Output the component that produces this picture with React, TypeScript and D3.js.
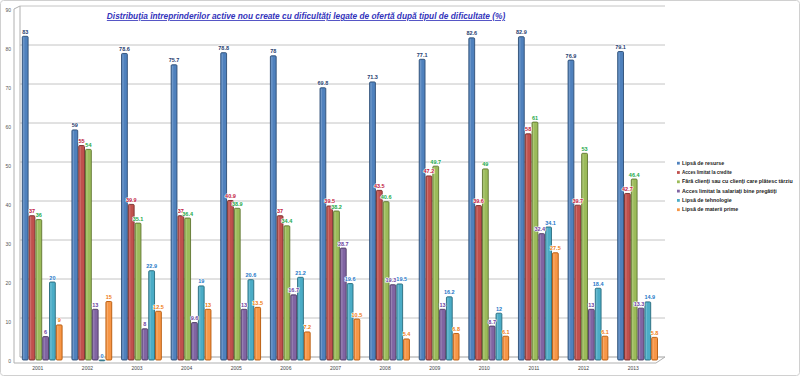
import React from "react";
import * as d3 from "d3";

const years = ["2001","2002","2003","2004","2005","2006","2007","2008","2009","2010","2011","2012","2013"];
const seriesNames = [
  "Lipsă de resurse",
  "Acces limitat la credite",
  "Fără clienţi sau cu clienţi care plătesc târziu",
  "Acces limitat la salariaţi bine pregătiţi",
  "Lipsă de tehnologie",
  "Lipsă de materii prime",
];
const lipsaResurse = [83, 59, 78.6, 75.7, 78.8, 78, 69.8, 71.3, 77.1, 82.6, 82.9, 76.9, 79.1];
const accesCredite = [37, 55, 39.9, 37, 40.9, 37, 39.5, 43.5, 47.2, 39.6, 58, 39.7, 42.7];
const faraClienti = [36, 54, 35.1, 36.4, 38.9, 34.4, 38.2, 40.6, 49.7, 49, 61, 53, 46.4];
const accesSalariati = [6, 13, 8, 9.6, 13, 16.7, 28.7, 19.3, 13, 8.7, 32.4, 13, 13.3];
const lipsaTehnologie = [20, 0, 22.9, 19, 20.6, 21.2, 19.6, 19.5, 16.2, 12, 34.1, 18.4, 14.9];
const lipsaMaterii = [9, 15, 12.5, 13, 13.5, 7.2, 10.5, 5.4, 6.8, 6.1, 27.5, 6.1, 5.8];
const yTicks = [0, 10, 20, 30, 40, 50, 60, 70, 80, 90];

const allSeries = [lipsaResurse, accesCredite, faraClienti, accesSalariati, lipsaTehnologie, lipsaMaterii];
const fills = ["#4f81bd", "#c0504d", "#9bbb59", "#8064a2", "#4bacc6", "#f79646"];
const strokes = ["#2c4d75", "#772c2a", "#5f7530", "#4d3b62", "#276a7c", "#b65708"];
const labelColors = ["#1f3c6e", "#c0143c", "#22a84a", "#6b3fa0", "#1f78c8", "#f07c10"];

export default function App() {
  const W = 800, H = 376;
  const x = d3.scaleBand().domain(years).range([13, 658]).padding(0);
  const inner = d3.scaleBand().domain(d3.range(6).map(String)).range([0, 40.8]).padding(0);
  const y = d3.scaleLinear().domain([0, 90]).range([360, 9]);
  const bw = inner.bandwidth();

  return (
    <div style={{ position: "absolute", left: 0, top: 0 }}>
      <svg width={W} height={H} style={{ display: "block", fontFamily: "'Liberation Sans', Arial, sans-serif" }}>
        <rect x={0.5} y={0.5} width={W - 1} height={H - 1} fill="#ffffff" stroke="#d0d0d0" rx={3} />
        {yTicks.map((t) => (
          <line key={t} x1={20} x2={665} y1={y(t) - 3} y2={y(t) - 3} stroke={t === 0 ? "#a0a0a0" : "#c4c4c4"} strokeWidth={1} />
        ))}
        <line x1={20} x2={20} y1={y(90) - 3} y2={y(0) - 3} stroke="#b0b0b0" />
        <line x1={14} x2={20} y1={y(90)} y2={y(90) - 3} stroke="#b0b0b0" />
        <line x1={14} x2={14} y1={y(90)} y2={363} stroke="#b0b0b0" />
        <line x1={14} x2={656} y1={363} y2={363} stroke="#b0b0b0" />
        <line x1={656} x2={665} y1={363} y2={y(0) - 3} stroke="#b0b0b0" />
        {yTicks.map((t) => (
          <text key={t} x={11} y={y(t) + 2.5} fontSize={5} fill="#555" textAnchor="end">{t}</text>
        ))}
        {years.map((yr, i) => {
          const gx = (x(yr) as number) + x.bandwidth() / 2 - 16;
          return (
            <g key={yr}>
              {allSeries.map((s, k) => {
                const v = s[i];
                const bx = gx + (inner(String(k)) as number);
                const top = y(v);
                const h = Math.max(y(0) - top, 0.8);
                return (
                  <g key={k}>
                    <rect x={bx + 0.5} y={top} width={bw - 1} height={h} fill={fills[k]} stroke={strokes[k]} strokeWidth={0.9} rx={1} />
                    <rect x={bx + 1.3} y={top + 1} width={1.3} height={Math.max(h - 2, 0)} fill="#ffffff" opacity={0.18} />
                  </g>
                );
              })}
              {allSeries.map((s, k) => {
                const v = s[i];
                let bx = gx + (inner(String(k)) as number) + bw / 2;
                if (k === 3 && Math.abs(s[i] - allSeries[4][i]) < 2) bx -= 2;
                if (k === 4 && Math.abs(s[i] - allSeries[3][i]) < 2) bx += 2;
                return (
                  <text key={"l" + k} x={bx} y={y(v) - 2.5} fontSize={5.5} fontWeight="bold" fill={labelColors[k]} textAnchor="middle"
                    stroke="#ffffff" strokeWidth={1.2} paintOrder="stroke">
                    {String(v)}
                  </text>
                );
              })}
              <text x={(x(yr) as number) + x.bandwidth() / 2} y={370} fontSize={5} fill="#444" textAnchor="middle">{yr}</text>
            </g>
          );
        })}
        <text x={306} y={19} fontSize={8.3} fontWeight="bold" fontStyle="italic" fill="#3333bb" textAnchor="middle" textDecoration="underline">
          Distribuţia întreprinderilor active nou create cu dificultăţi legate de ofertă după tipul de dificultate (%)
        </text>
        {seriesNames.map((n, k) => (
          <g key={n} transform={`translate(677, ${164 + k * 9.3})`}>
            <rect x={0} y={-2.2} width={2.8} height={2.8} fill={fills[k]} />
            <text x={5} y={0.8} fontSize={k === 1 ? 4.6 : 5.3} fontWeight="bold" fill="#222">{n}</text>
          </g>
        ))}
      </svg>
    </div>
  );
}
